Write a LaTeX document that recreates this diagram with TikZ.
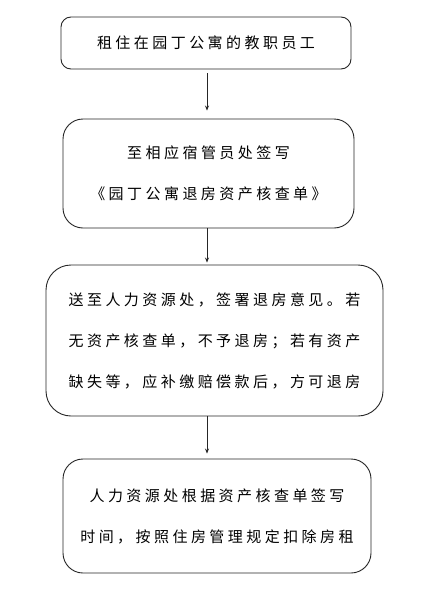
\documentclass[tikz,border=0pt]{standalone}
\usepackage{fontspec}
\newfontfamily\cjk[LetterSpace=23]{Noto Sans CJK SC}
\usetikzlibrary{arrows.meta}
\tikzset{
  box/.style={draw=black!85, line width=0.9pt, align=center, inner sep=0pt,
    font=\cjk\fontsize{15}{41}\selectfont},
  arr/.style={draw=black!85, line width=0.7pt, -{Stealth[length=5pt,width=4pt]}}
}
\begin{document}
\begin{tikzpicture}[x=1pt,y=-1pt]
\useasboundingbox (0,0) rectangle (426,608);
\fill[white] (0,0) rectangle (426,608);
\coordinate (ax) at (207,0);
\node[box, rounded corners=10pt, minimum width=290pt, minimum height=52pt] (b1) at (206,43) {租住在园丁公寓的教职员工};
\node[box, rounded corners=20pt, minimum width=291pt, minimum height=109pt] (b2) at (208.5,173.5) {至相应宿管员处签写\\《园丁公寓退房资产核查单》};
\node[box, rounded corners=25pt, minimum width=337pt, minimum height=151pt] (b3) at (214.5,340.5) {送至人力资源处，签署退房意见。若\\无资产核查单，不予退房；若有资产\\缺失等，应补缴赔偿款后，方可退房};
\node[box, rounded corners=20pt, minimum width=308pt, minimum height=114pt] (b4) at (217,516) {人力资源处根据资产核查单签写\\时间，按照住房管理规定扣除房租};
\draw[arr, shorten <=4pt, shorten >=8pt] (b1.south -| ax) -- (b2.north -| ax);
\draw[arr, shorten >=2pt] (b2.south -| ax) -- (b3.north -| ax);
\draw[arr, shorten >=5pt] (b3.south -| ax) -- (b4.north -| ax);
\end{tikzpicture}
\end{document}
